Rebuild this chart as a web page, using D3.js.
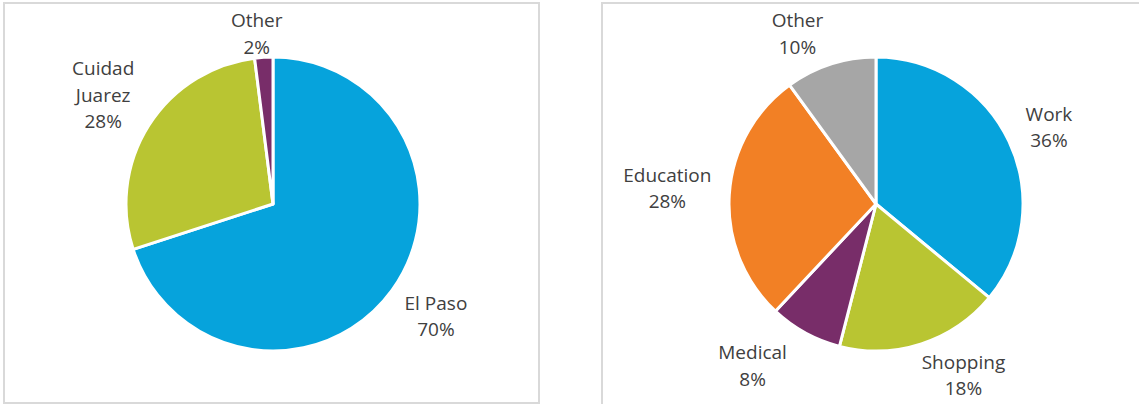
<!DOCTYPE html>
<html>
<head>
<meta charset="utf-8">
<script src="https://cdn.jsdelivr.net/npm/d3@7"></script>
<style>
  body { margin: 0; background: #fff; }
  svg { display: block; }
  .lbl { font-family: "Open Sans", sans-serif; font-size: 19px; fill: #404040; }
</style>
</head>
<body>
<svg id="chart" width="1139" height="404"></svg>
<script>
// Where the trips come from
const originNames = ["El Paso", "Cuidad Juarez", "Other"];
const originShares = [70, 28, 2];
const originColors = ["#06a3dc", "#b9c532", "#782d69"];

// Purpose of the trips
const purposeNames = ["Work", "Shopping", "Medical", "Education", "Other"];
const purposeShares = [36, 18, 8, 28, 10];
const purposeColors = ["#06a3dc", "#b9c532", "#782d69", "#f28025", "#a6a6a6"];

const svg = d3.select("#chart");

const radius = 147,
      labelRadius = 170,
      lineHeight = 26.5,
      capHeight = 14,
      wrapWidth = 90,
      fmt = d3.format(".0%");

// panel frames
svg.append("rect")
    .attr("x", 4).attr("y", 3)
    .attr("width", 535).attr("height", 400)
    .attr("fill", "none").attr("stroke", "#d9d9d9").attr("stroke-width", 2);
svg.append("rect")
    .attr("x", 602).attr("y", 3)
    .attr("width", 600).attr("height", 450)
    .attr("fill", "none").attr("stroke", "#d9d9d9").attr("stroke-width", 2);

function wrapWords(g, name) {
	// split the name into lines not wider than wrapWidth
	const words = name.split(" ");
	const lines = [];
	let cur = words[0];
	const probe = g.append("text").attr("class", "lbl");
	for (let i = 1; i < words.length; i++) {
		probe.text(cur + " " + words[i]);
		if (probe.node().getComputedTextLength() > wrapWidth) {
			lines.push(cur);
			cur = words[i];
		} else {
			cur = cur + " " + words[i];
		}
	}
	lines.push(cur);
	probe.remove();
	return lines;
}

function drawPie(cx, cy, names, shares, colors, nudges, bounds) {

	const data = names.map((n, i) => ({ name: n, value: shares[i], color: colors[i] }));
	const total = d3.sum(shares);

	const pie = d3.pie()
		.sort(null)
		.value(d => d.value);

	const arc = d3.arc()
		.innerRadius(0)
		.outerRadius(radius);

	const g = svg.append("g")
		.attr("transform", "translate(" + cx + "," + cy + ")");

	g.selectAll("path.slice")
		.data(pie(data))
		.join("path")
		.classed("slice", true)
		.attr("d", arc)
		.attr("fill", d => d.data.color)
		.attr("stroke", "#fff")
		.attr("stroke-width", 3)
		.attr("stroke-linejoin", "round");

	// labels outside the end of each slice, box touching the label circle
	pie(data).forEach(d => {
		const lines = wrapWords(g, d.data.name);
		lines.push(fmt(d.data.value / total));

		const t = g.append("text")
			.attr("class", "lbl")
			.attr("text-anchor", "middle");
		lines.forEach((l, i) => {
			t.append("tspan").attr("x", 0).attr("dy", i ? lineHeight : 0).text(l);
		});

		const w = t.node().getBBox().width,
			  h = (lines.length - 1) * lineHeight + capHeight,
			  mid = (d.startAngle + d.endAngle) / 2,
			  s = Math.sin(mid),
			  c = Math.cos(mid);

		let x = labelRadius * s + s * w / 2,
			y = -labelRadius * c - c * h / 2;

		// keep the label inside the chart area
		y = Math.max(y, bounds[0] - cy + h / 2);
		y = Math.min(y, bounds[1] - cy - h / 2);

		const n = nudges[d.data.name] || [0, 0];
		x += n[0];
		y += n[1];

		t.attr("transform", "translate(" + x + "," + (y - h / 2 + capHeight) + ")");
	});
}

drawPie(273, 204, originNames, originShares, originColors,
	{ "Other": [-4, 0] }, [13, 395]);

drawPie(876, 204, purposeNames, purposeShares, purposeColors,
	{ "Shopping": [22, 0], "Medical": [-25, -5], "Other": [-18, 0], "Education": [5, -4], "Work": [-2, 4] },
	[13, 395]);
</script>
</body>
</html>
